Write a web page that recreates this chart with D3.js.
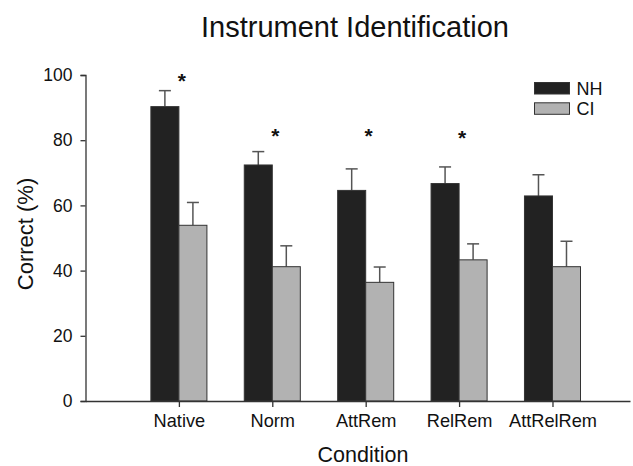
<!DOCTYPE html>
<html><head><meta charset="utf-8">
<script src="https://cdn.jsdelivr.net/npm/d3@7"></script>
<style>body{margin:0;background:#fff}svg{font-family:"Liberation Sans",Arial,sans-serif}</style>
</head><body><svg id="c" width="633" height="466"></svg>
<script>
const categories = ["Native","Norm","AttRem","RelRem","AttRelRem"];
const nhValues = [90.3, 72.4, 64.6, 66.7, 62.9];
const nhErrors = [4.9, 4.1, 6.6, 5.1, 6.5];
const ciValues = [53.9, 41.2, 36.4, 43.3, 41.2];
const ciErrors = [7.0, 6.4, 4.7, 4.9, 7.8];
const significant = [true, true, true, true, false];
const starLevels = [99.4, 82.6, 82.4, 82.0, null];
const yTicks = [0, 20, 40, 60, 80, 100];
const seriesNames = ["NH", "CI"];
const seriesColors = ["#222222", "#b2b2b2"];

const svg = d3.select("#c");
const x = d3.scaleLinear().domain([0, 5.83]).range([85.5, 630]);
const y = d3.scaleLinear().domain([0, 100]).range([401, 75]);
const barW = x(0.3) - x(0);

const series = [
  {name: seriesNames[0], vals: nhValues, errs: nhErrors, color: seriesColors[0], off: -1},
  {name: seriesNames[1], vals: ciValues, errs: ciErrors, color: seriesColors[1], off: 0}
];

// error bars (upward only)
series.forEach(s => {
  const g = svg.append("g");
  s.vals.forEach((v, i) => {
    const cx = x(i + 1) + s.off * barW + barW / 2;
    g.append("line").attr("x1", cx).attr("x2", cx).attr("y1", y(v)).attr("y2", y(v + s.errs[i]))
      .attr("stroke", "#555").attr("stroke-width", 1.5);
    g.append("line").attr("x1", cx - 6).attr("x2", cx + 6).attr("y1", y(v + s.errs[i])).attr("y2", y(v + s.errs[i]))
      .attr("stroke", "#555").attr("stroke-width", 1.5);
  });
});

// bars
series.forEach(s => {
  svg.append("g").selectAll("rect").data(s.vals).join("rect")
    .attr("x", (d, i) => x(i + 1) + s.off * barW)
    .attr("y", d => y(d))
    .attr("width", barW)
    .attr("height", d => y(0) - y(d))
    .attr("fill", s.color)
    .attr("stroke", "#333").attr("stroke-width", 1);
});

// y axis
const yAxis = svg.append("g").attr("transform", `translate(${x(0)},0)`)
  .call(d3.axisLeft(y).tickValues(yTicks).tickSize(5).tickPadding(8));
yAxis.select(".domain").attr("stroke", "#333").attr("stroke-width", 1.3);
yAxis.selectAll(".tick line").attr("stroke", "#333").attr("stroke-width", 1.3);
yAxis.selectAll(".tick text").attr("font-size", 17.5).attr("fill", "#111")
  .attr("font-family", "Liberation Sans, Arial, sans-serif");

// x axis
const xAxis = svg.append("g").attr("transform", `translate(0,${y(0)})`)
  .call(d3.axisBottom(x).tickValues([1,2,3,4,5]).tickFormat(d => categories[d - 1]).tickSize(6).tickPadding(7).tickSizeOuter(0));
xAxis.select(".domain").attr("stroke", "#333").attr("stroke-width", 1.3);
xAxis.selectAll(".tick line").attr("stroke", "#333").attr("stroke-width", 1.3);
xAxis.selectAll(".tick text").attr("font-size", 18.2).attr("fill", "#111")
  .attr("font-family", "Liberation Sans, Arial, sans-serif");

// asterisks
svg.append("g").selectAll("text").data(starLevels.map((v, i) => ({v, i})).filter(d => significant[d.i]))
  .join("text")
  .attr("x", d => x(d.i + 1) + 3)
  .attr("y", d => y(d.v) + 11)
  .attr("text-anchor", "middle")
  .attr("font-size", 21).attr("font-weight", "bold").attr("fill", "#111")
  .text("*");

// title and axis labels
svg.append("text").attr("x", 355).attr("y", 37).attr("text-anchor", "middle")
  .attr("font-size", 29).attr("fill", "#111").text("Instrument Identification");
svg.append("text").attr("x", 363).attr("y", 462).attr("text-anchor", "middle")
  .attr("font-size", 21.5).attr("fill", "#111").text("Condition");
svg.append("text").attr("transform", "translate(33,234) rotate(-90)").attr("text-anchor", "middle")
  .attr("font-size", 22).attr("fill", "#111").text("Correct (%)");

// legend
const leg = svg.append("g");
series.forEach((s, i) => {
  leg.append("rect").attr("x", 534.5).attr("y", 82.5 + i * 20.3).attr("width", 35).attr("height", 11.5)
    .attr("fill", s.color).attr("stroke", "#333").attr("stroke-width", 1);
  leg.append("text").attr("x", 576.5).attr("y", 95 + i * 20.3).attr("font-size", 18).attr("fill", "#111").text(s.name);
});
</script></body></html>
